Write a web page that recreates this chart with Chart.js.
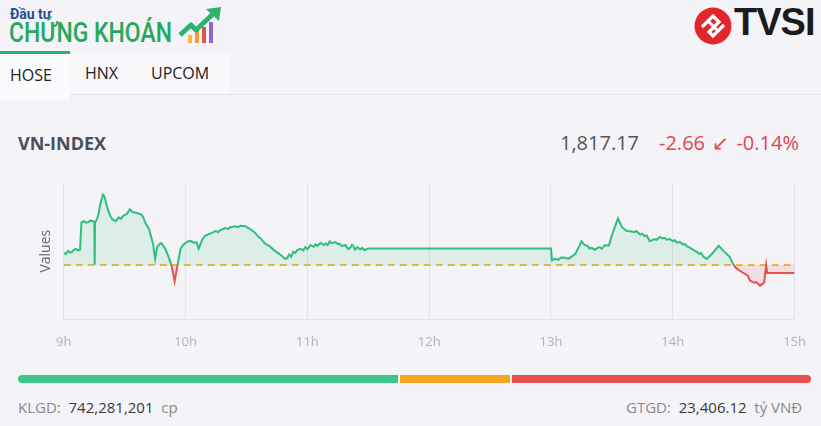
<!DOCTYPE html>
<html>
<head>
<meta charset="utf-8">
<script src="https://cdn.jsdelivr.net/npm/chart.js@4.4.1/dist/chart.umd.min.js"></script>
<style>
  html, body { margin: 0; padding: 0; }
  body { width: 821px; height: 426px; background: #f3f3f8; font-family: "Open Sans", sans-serif; position: relative; overflow: hidden; }
  .abs { position: absolute; white-space: nowrap; }
  #brand1 { left: 10px; top: 6px; font-size: 14px; font-weight: bold; color: #1f4f8f; font-family: "Roboto", sans-serif; }
  #brand2 { left: 9px; top: 17px; font-size: 27px; font-weight: 500; color: #27a85a; font-family: "Roboto", sans-serif; transform: scaleX(0.85); transform-origin: left top; }
  #tabs { left: 0; top: 54px; width: 230px; height: 41px; background: #f8f8fb; }
  #tabActive { left: 0; top: 51px; width: 70px; height: 49px; background: #fbfbfd; border-top: 3px solid #2bb56c; box-sizing: border-box; }
  .tab { top: 62px; font-size: 16px; color: #222; }
  #tabline { left: 70px; top: 94px; width: 751px; height: 1px; background: #dfe4ee; }
  #tvsi { left: 734px; top: 1px; font-size: 38px; font-weight: bold; color: #1b1b1b; font-family: "Liberation Sans", sans-serif; letter-spacing: -1px; }
  #title { left: 18px; top: 131px; font-size: 18px; font-weight: bold; color: #4a4f57; }
  #price { left: 560px; top: 129px; font-size: 20px; color: #555; }
  #change { left: 659px; top: 129px; font-size: 20px; color: #e0474c; word-spacing: 2px; }
  #chartBox { left: 0; top: 170px; width: 821px; height: 195px; }
  .bar { top: 375px; height: 8px; }
  .foot { top: 397px; font-size: 15px; color: #8a8a8a; }
  .foot b { font-weight: normal; color: #3a3a3a; }
</style>
</head>
<body>
<div class="abs" id="brand1">Đầu tư</div>
<div class="abs" id="brand2">CHỨNG KHOÁN</div>
<svg class="abs" style="left:178px;top:5px" width="46" height="40" viewBox="0 0 46 40">
  <rect x="10" y="30" width="4" height="8" fill="#f6b93b"/>
  <rect x="17" y="25" width="4" height="13" fill="#f39c34"/>
  <rect x="24" y="22" width="4" height="16" fill="#e8504f"/>
  <rect x="31" y="17" width="4" height="21" fill="#8e63d8"/>
  <polyline points="2,30 13,20 18,25 36,8" fill="none" stroke="#2bb56c" stroke-width="5" stroke-linejoin="round"/>
  <polygon points="28,4 43,2 41,16" fill="#2bb56c"/>
</svg>
<div class="abs" id="tabs"></div>
<div class="abs" id="tabActive"></div>
<div class="abs tab" style="left:10px;top:64px">HOSE</div>
<div class="abs tab" style="left:85px">HNX</div>
<div class="abs tab" style="left:151px">UPCOM</div>
<div class="abs" id="tabline"></div>
<svg class="abs" style="left:694px;top:7px" width="38" height="38" viewBox="0 0 38 38">
  <circle cx="19" cy="19" r="18.5" fill="#e3262b"/>
  <path d="M8 20 L19 9 L25 15 L15 25 L19 29 L30 18" fill="none" stroke="#fff" stroke-width="3.2" stroke-linejoin="miter"/>
  <path d="M14 14 L19 19 L24 24" fill="none" stroke="#fff" stroke-width="3"/>
</svg>
<div class="abs" id="tvsi">TVSI</div>

<div class="abs" id="title">VN-INDEX</div>
<div class="abs" id="price">1,817.17</div>
<div class="abs" id="change">-2.66 &#8601; -0.14%</div>

<div class="abs" id="chartBox"><canvas id="graph1"></canvas></div>

<div class="abs bar" style="left:18px;width:380px;background:#3cc68a;border-radius:4px 0 0 4px"></div>
<div class="abs bar" style="left:400px;width:110px;background:#f5a623"></div>
<div class="abs bar" style="left:512px;width:299px;background:#e8504f;border-radius:0 4px 4px 0"></div>

<div class="abs foot" style="left:18px">KLGD:&nbsp; <b>742,281,201</b>&nbsp; cp</div>
<div class="abs foot" style="left:626px">GTGD:&nbsp; <b>23,406.12</b>&nbsp; tỷ VNĐ</div>

<script>
// reference = previous close
const refValue = 1819.83;
const hourLabels = ['9h', '10h', '11h', '12h', '13h', '14h', '15h'];

// minutes after 9:00
const minutes = [
  0, 1, 2, 3, 4, 5, 6, 7, 8, 8.7, 10, 11, 12, 13, 14, 15, 15.2, 15.4, 16, 17, 18, 19.3, 20, 21, 22, 23, 24, 25.6, 27, 28, 29.5, 31, 32.5, 33.5, 34.4, 36, 38, 39, 40, 42, 44, 45, 46, 47, 48, 50, 51.6, 53, 54.6, 56, 57.5, 58.5, 60.5, 62.5, 64, 65.4, 66.4, 68, 69.4, 72, 74.8, 76, 77, 79.7, 81, 82, 84.6, 86, 87, 89.5, 91, 92, 94, 95, 96, 97, 98, 99.4, 101, 102, 103, 104, 106, 107, 109, 110, 111, 112, 113, 114, 115, 116.6, 118, 119, 120, 121.5, 123, 124, 125, 126.4, 128, 129, 130, 131, 132, 133.8, 135, 136, 137, 138.7, 140, 141, 142, 142.5, 143.5, 144.6, 146, 147, 148, 150,
  240, 240.5, 242, 243.5, 245, 247, 248.5, 250, 252, 254, 255, 256.5, 258, 259, 260, 261.6, 263, 264, 265, 266.6, 268.5, 270, 273, 275, 277.4, 279, 281, 282, 284, 285, 286, 287, 288.7, 291, 292, 293.6, 295, 296, 297, 298.5, 300, 301, 302, 303.5, 305, 306, 307, 308, 310.5, 312, 313, 314, 315, 316.8, 319.7, 322.6, 325, 328, 330, 331.5, 333, 335.5, 337, 338, 340, 341, 343, 344, 345, 346, 346.5, 360
];
const values = [
  1823.9, 1823.5, 1824.6, 1824.1, 1824.2, 1825.0, 1825.3, 1824.8, 1825.0, 1834.2, 1834.6, 1834.1, 1834.3, 1834.8, 1834.7, 1834.5, 1819.9, 1834.4, 1834.8, 1836.6, 1840.5, 1843.6, 1843.0, 1840.2, 1838.0, 1836.3, 1835.2, 1834.6, 1835.9, 1835.4, 1836.6, 1837.0, 1838.6, 1837.9, 1837.6, 1837.4, 1836.9, 1836.2, 1834.3, 1831.9, 1826.9, 1821.9, 1825.9, 1826.8, 1827.3, 1825.3, 1822.6, 1819.9, 1814.3, 1819.8, 1825.3, 1826.4, 1827.6, 1828.0, 1827.4, 1827.5, 1825.3, 1828.1, 1829.6, 1830.4, 1831.3, 1830.9, 1831.6, 1832.3, 1832.0, 1832.6, 1832.9, 1832.6, 1833.1, 1832.9, 1832.3, 1831.9, 1830.8, 1830.1, 1829.3, 1828.8, 1828.0, 1826.9, 1826.4, 1825.8, 1825.2, 1824.6, 1823.7, 1823.1, 1821.9, 1822.1, 1823.4, 1822.6, 1824.3, 1823.9, 1824.9, 1825.3, 1824.8, 1825.9, 1825.2, 1826.6, 1826.0, 1826.8, 1826.3, 1827.3, 1826.6, 1827.1, 1826.5, 1827.8, 1827.2, 1827.6, 1826.9, 1827.0, 1826.2, 1826.6, 1825.2, 1825.6, 1826.7, 1826.4, 1825.0, 1825.9, 1825.1, 1825.6, 1824.9, 1825.4,
  1825.4, 1821.4, 1821.9, 1821.6, 1822.4, 1822.3, 1821.9, 1822.6, 1823.6, 1826.3, 1827.9, 1826.6, 1826.3, 1825.4, 1825.6, 1825.0, 1825.6, 1825.9, 1825.3, 1826.6, 1826.4, 1829.9, 1835.6, 1832.6, 1831.3, 1831.2, 1830.9, 1831.3, 1830.1, 1830.4, 1829.6, 1829.9, 1827.9, 1828.6, 1828.3, 1829.3, 1828.8, 1829.0, 1828.4, 1828.6, 1827.9, 1828.2, 1827.4, 1827.6, 1826.8, 1826.9, 1826.1, 1825.9, 1824.8, 1824.2, 1823.6, 1823.9, 1822.7, 1821.9, 1823.9, 1826.3, 1824.6, 1822.6, 1819.8, 1818.6, 1817.9, 1816.9, 1816.2, 1814.6, 1813.9, 1814.1, 1812.9, 1813.4, 1813.9, 1819.8, 1817.17, 1817.17
];

const greenLine = '#2fbf7c';
const redLine = '#e8504f';

let points = [];
for (let i = 0; i < minutes.length; i++) {
    points.push({x: minutes[i], y: values[i]});
}
let refPoints = [{x: 0, y: refValue}, {x: 360, y: refValue}];

let graph1 = document.getElementById('graph1').getContext('2d');
const myChart = new Chart(graph1, {
    type: 'line',
    data: {
        datasets: [{
            data: points,
            borderWidth: 2,
            pointRadius: 0,
            tension: 0,
            borderColor: greenLine,
            segment: {
                borderColor: ctx => ((ctx.p0.parsed.y + ctx.p1.parsed.y) / 2 < refValue ? redLine : greenLine)
            },
            fill: {
                target: {value: refValue},
                above: 'rgba(60, 198, 138, 0.12)',
                below: 'rgba(232, 80, 79, 0.13)'
            }
        }, {
            data: refPoints,
            borderColor: '#f5b53a',
            borderWidth: 2,
            borderDash: [7, 5],
            pointRadius: 0,
            fill: false
        }]
    },
    options: {
        responsive: true,
        maintainAspectRatio: false,
        animation: false,
        layout: {
            padding: {left: 34, right: 26, top: 13, bottom: 0}
        },
        plugins: {
            legend: {display: false},
            tooltip: {enabled: false}
        },
        scales: {
            x: {
                type: 'linear',
                min: 0,
                max: 360,
                ticks: {
                    stepSize: 60,
                    color: '#b3b3b3',
                    font: {size: 13, family: 'Open Sans'},
                    padding: 15,
                    maxRotation: 0,
                    callback: (v) => hourLabels[v / 60]
                },
                grid: {color: '#e2e3e8', drawTicks: false},
                border: {display: true, color: '#e2e3e8'}
            },
            y: {
                min: 1801.5,
                max: 1847.5,
                ticks: {display: false},
                grid: {display: false},
                border: {display: false},
                title: {
                    display: true,
                    text: 'Values',
                    color: '#666',
                    font: {size: 14, family: 'Open Sans'},
                    padding: {top: 4, bottom: 1}
                }
            }
        }
    }
});
</script>
</body>
</html>
